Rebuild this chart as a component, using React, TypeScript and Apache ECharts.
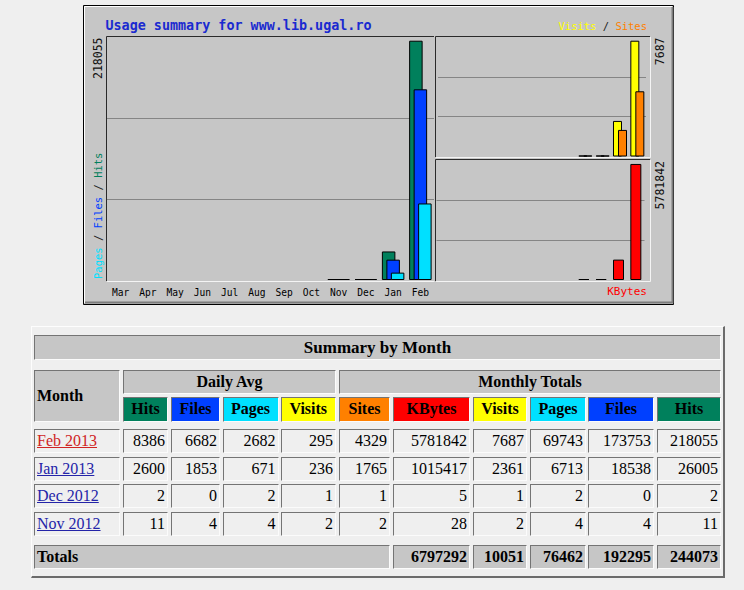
import React, { useEffect, useRef } from "react";
import * as echarts from "echarts";

// ---------- data ----------
const chartMonths = ["Mar", "Apr", "May", "Jun", "Jul", "Aug", "Sep", "Oct", "Nov", "Dec", "Jan", "Feb"];
const hitsMonthly = [null, null, null, null, null, null, null, null, 11, 2, 26005, 218055];
const filesMonthly = [null, null, null, null, null, null, null, null, 4, 0, 18538, 173753];
const pagesMonthly = [null, null, null, null, null, null, null, null, 4, 2, 6713, 69743];
const visitsMonthly = [null, null, null, null, null, null, null, null, 2, 1, 2361, 7687];
const sitesMonthly = [null, null, null, null, null, null, null, null, 2, 1, 1765, 4329];
const kbytesMonthly = [null, null, null, null, null, null, null, null, 28, 5, 1015417, 5781842];

const chartTitle = "Usage summary for www.lib.ugal.ro";

const tableTitle = "Summary by Month";
const tableMonths = ["Feb 2013", "Jan 2013", "Dec 2012", "Nov 2012"];
const groupHeaders = ["Daily Avg", "Monthly Totals"];
const columnHeaders = ["Hits", "Files", "Pages", "Visits", "Sites", "KBytes", "Visits", "Pages", "Files", "Hits"];
const dailyHits = [8386, 2600, 2, 11];
const dailyFiles = [6682, 1853, 0, 4];
const dailyPages = [2682, 671, 2, 4];
const dailyVisits = [295, 236, 1, 2];
const totalSites = [4329, 1765, 1, 2];
const totalKBytes = [5781842, 1015417, 5, 28];
const totalVisits = [7687, 2361, 1, 2];
const totalPages = [69743, 6713, 2, 4];
const totalFiles = [173753, 18538, 0, 4];
const totalHits = [218055, 26005, 2, 11];
const totalsLabel = "Totals";
const totalsRow = [6797292, 10051, 76462, 192295, 244073];

// ---------- styles ----------
const HIT = "#00805c";
const FILE = "#0040ff";
const PAGE = "#00e0ff";
const VISIT = "#ffff00";
const SITE = "#ff8000";
const KBYTE = "#ff0000";
const PANEL = "#c6c6c6";
const PAGE_BG = "#efefef";
const GRIDLINE = "#858585";
const MONO = '"DejaVu Sans Mono", "Liberation Mono", monospace';
const SERIF = '"Liberation Serif", "Times New Roman", serif';

const columnColors = [HIT, FILE, PAGE, VISIT, SITE, KBYTE, VISIT, PAGE, FILE, HIT];
const columnData = [dailyHits, dailyFiles, dailyPages, dailyVisits, totalSites, totalKBytes, totalVisits, totalPages, totalFiles, totalHits];

// table layout (pixels)
const colX0 = [34, 123, 171, 222.5, 280.5, 339, 393, 473, 530, 588, 657];
const colX1 = [120, 168, 220, 278.5, 336, 390, 470, 527, 586, 654, 721];
const rowY0 = [429, 456.5, 484, 511.5];
const ROW_H = 24;

const maxOf = (a: (number | null)[]) => Math.max(...(a.filter((v) => v != null) as number[]));

function buildOption() {
  const mHits = maxOf(hitsMonthly);
  const mVisits = maxOf(visitsMonthly);
  const mKB = maxOf(kbytesMonthly);
  const y0 = mHits * 1.0155;
  const y1 = mVisits * 1.032;
  const y2 = mKB * 1.034;

  const hiddenCat = (gi: number, showLabel: boolean) => ({
    gridIndex: gi,
    type: "category",
    data: chartMonths,
    axisLine: { show: false },
    axisTick: { show: false },
    splitLine: { show: false },
    axisLabel: showLabel
      ? { show: true, interval: 0, color: "#000", fontFamily: MONO, fontSize: 9.6, margin: 7 }
      : { show: false },
  });
  const valAxis = (gi: number, max: number) => ({
    gridIndex: gi,
    type: "value",
    min: 0,
    max,
    interval: max / 3,
    axisLine: { show: false },
    axisTick: { show: false },
    axisLabel: { show: false },
    splitLine: { show: true, showMinLine: false, showMaxLine: false, lineStyle: { color: GRIDLINE, width: 1 } },
  });
  const bar = (name: string, data: (number | null)[], color: string, axis: number, width: number, gap: string) => ({
    type: "bar",
    name,
    data,
    xAxisIndex: axis,
    yAxisIndex: axis,
    barWidth: width,
    barGap: gap,
    barMinHeight: 1,
    silent: true,
    itemStyle: { color, borderColor: "#000", borderWidth: 1 },
  });

  const poly = (pts: number[][], stroke: string, lw = 1, z = 10) => ({
    type: "polyline",
    silent: true,
    z,
    shape: { points: pts },
    style: { stroke, lineWidth: lw, fill: "none" },
  });
  const txt = (x: number, y: number, text: string, font: string, fill: string, align: string, rotation = 0, rich?: any) => ({
    type: "text",
    silent: true,
    z: 20,
    x,
    y,
    rotation,
    style: {
      text,
      font,
      fill,
      align,
      textAlign: align,
      verticalAlign: "middle",
      textVerticalAlign: "middle",
      rich,
    },
  });

  const f105 = "10.5px " + MONO;
  const rich3 = (a: string, b: string, c?: string) => {
    const r: any = {
      s: { fill: "#222", color: "#222", font: f105 },
      a: { fill: a, color: a, font: f105 },
      b: { fill: b, color: b, font: f105 },
    };
    if (c) r.c = { fill: c, color: c, font: f105 };
    return r;
  };

  return {
    animation: false,
    backgroundColor: "transparent",
    grid: [
      { left: 107, top: 37, width: 327, height: 243 },
      { left: 438, top: 37, width: 208, height: 119.5 },
      { left: 436.5, top: 160, width: 208, height: 120 },
    ],
    xAxis: [hiddenCat(0, true), hiddenCat(1, false), hiddenCat(2, false)],
    yAxis: [valAxis(0, y0), valAxis(1, y1), valAxis(2, y2)],
    series: [
      bar("Hits", hitsMonthly, HIT, 0, 13.5, "-66.7%"),
      bar("Files", filesMonthly, FILE, 0, 13.5, "-66.7%"),
      bar("Pages", pagesMonthly, PAGE, 0, 13.5, "-66.7%"),
      bar("Visits", visitsMonthly, VISIT, 1, 9, "-44.4%"),
      bar("Sites", sitesMonthly, SITE, 1, 9, "-44.4%"),
      bar("KBytes", kbytesMonthly, KBYTE, 2, 11, "0%"),
    ],
    graphic: [
      {
        type: "rect",
        silent: true,
        z: -10,
        shape: { x: 83.5, y: 5.5, width: 590, height: 299 },
        style: { fill: PANEL, stroke: "#000", lineWidth: 1 },
      },
      poly([[84.5, 303], [84.5, 6.5], [672, 6.5]], "#ffffff", 1, -9),
      poly([[85, 302.5], [672.5, 302.5], [672.5, 7]], "#7c7c7c", 2, -9),
      // left plot frame
      poly([[106.5, 281], [106.5, 36.5], [434, 36.5]], "#2a2a2a"),
      poly([[107, 281.5], [434.5, 281.5]], "#f4f4f4"),
      // top right plot frame
      poly([[435.5, 157], [435.5, 36.5], [650, 36.5]], "#2a2a2a"),
      poly([[436, 157.5], [650.5, 157.5], [650.5, 37]], "#f4f4f4"),
      // bottom right plot frame
      poly([[435.5, 281], [435.5, 159.5], [650, 159.5]], "#2a2a2a"),
      poly([[436, 281.5], [650.5, 281.5], [650.5, 160]], "#f4f4f4"),
      // texts
      txt(105.5, 25, chartTitle, "bold 13.4px " + MONO, "#1a2ad0", "left"),
      txt(97.5, 37.5, String(mHits), "11.5px " + MONO, "#111", "right", Math.PI / 2),
      txt(97.5, 279, "{a|Pages}{s| / }{b|Files}{s| / }{c|Hits}", f105, "#222", "left", Math.PI / 2, rich3(PAGE, FILE, HIT)),
      txt(660, 37.5, String(mVisits), "11.5px " + MONO, "#111", "right", Math.PI / 2),
      txt(660, 161, String(mKB), "11.5px " + MONO, "#111", "right", Math.PI / 2),
      txt(647, 26, "{a|Visits}{s| / }{b|Sites}", f105, "#222", "right", 0, rich3(VISIT, SITE)),
      txt(647, 291, "KBytes", "11px " + MONO, KBYTE, "right"),
    ],
  };
}

const inset: React.CSSProperties = {
  position: "absolute",
  boxSizing: "border-box",
  borderTop: "1px solid #747474",
  borderLeft: "1px solid #747474",
  borderRight: "1px solid #fbfbfb",
  borderBottom: "1px solid #fbfbfb",
  display: "flex",
  alignItems: "center",
  fontFamily: SERIF,
  fontSize: 16,
  color: "#000",
  whiteSpace: "nowrap",
  overflow: "hidden",
};

function Cell(props: {
  x0: number; x1: number; y0: number; y1: number; bg?: string; align?: "left" | "right" | "center";
  bold?: boolean; size?: number; color?: string; underline?: boolean; children: React.ReactNode;
}) {
  const { x0, x1, y0, y1, bg, align = "right", bold, size, color, underline, children } = props;
  return (
    <div
      style={{
        ...inset,
        left: x0,
        top: y0,
        width: x1 - x0,
        height: y1 - y0,
        background: bg || "transparent",
        justifyContent: align === "left" ? "flex-start" : align === "center" ? "center" : "flex-end",
        paddingLeft: align === "left" ? 2 : 0,
        paddingRight: align === "right" ? 2 : 0,
        fontWeight: bold ? "bold" : "normal",
        fontSize: size || 16,
        color: color || "#000",
        textDecoration: underline ? "underline" : "none",
      }}
    >
      {children}
    </div>
  );
}

export default function App() {
  const ref = useRef<HTMLDivElement>(null);
  useEffect(() => {
    if (!ref.current) return;
    const chart = echarts.init(ref.current, null, { renderer: "svg" });
    chart.setOption(buildOption() as any);
    return () => chart.dispose();
  }, []);

  const cells: React.ReactNode[] = [];
  cells.push(
    <Cell key="title" x0={34} x1={721} y0={335} y1={360} bg={PANEL} align="center" bold size={17}>
      {tableTitle}
    </Cell>
  );
  cells.push(
    <Cell key="month" x0={34} x1={120} y0={370} y1={421.5} bg={PANEL} align="left" bold>
      Month
    </Cell>
  );
  cells.push(
    <Cell key="g0" x0={123} x1={336} y0={370} y1={394} bg={PANEL} align="center" bold>
      {groupHeaders[0]}
    </Cell>
  );
  cells.push(
    <Cell key="g1" x0={339} x1={721} y0={370} y1={394} bg={PANEL} align="center" bold>
      {groupHeaders[1]}
    </Cell>
  );
  columnHeaders.forEach((h, i) => {
    cells.push(
      <Cell key={"h" + i} x0={colX0[i + 1]} x1={colX1[i + 1]} y0={397} y1={421.5} bg={columnColors[i]} align="center" bold>
        {h}
      </Cell>
    );
  });
  tableMonths.forEach((m, r) => {
    cells.push(
      <Cell key={"m" + r} x0={colX0[0]} x1={colX1[0]} y0={rowY0[r]} y1={rowY0[r] + ROW_H} align="left" underline color={r === 0 ? "#d02424" : "#2424a8"}>
        {m}
      </Cell>
    );
    columnData.forEach((col, c) => {
      cells.push(
        <Cell key={"d" + r + "_" + c} x0={colX0[c + 1]} x1={colX1[c + 1]} y0={rowY0[r]} y1={rowY0[r] + ROW_H}>
          {col[r]}
        </Cell>
      );
    });
  });
  cells.push(
    <Cell key="tot" x0={34} x1={390} y0={544.5} y1={568.5} bg={PANEL} align="left" bold>
      {totalsLabel}
    </Cell>
  );
  totalsRow.forEach((v, i) => {
    cells.push(
      <Cell key={"t" + i} x0={colX0[i + 6]} x1={colX1[i + 6]} y0={544.5} y1={568.5} bg={PANEL} bold>
        {v}
      </Cell>
    );
  });

  return (
    <div style={{ position: "absolute", left: 0, top: 0, width: 744, height: 590, background: PAGE_BG, overflow: "hidden" }}>
      <div ref={ref} style={{ position: "absolute", left: 0, top: 0, width: 744, height: 315 }} />
      <div
        style={{
          position: "absolute",
          left: 31,
          top: 326,
          width: 694,
          height: 252,
          boxSizing: "border-box",
          borderTop: "1px solid #fdfdfd",
          borderLeft: "1px solid #fdfdfd",
          borderRight: "2px solid #6b6b6b",
          borderBottom: "2px solid #6b6b6b",
        }}
      />
      {cells}
    </div>
  );
}
